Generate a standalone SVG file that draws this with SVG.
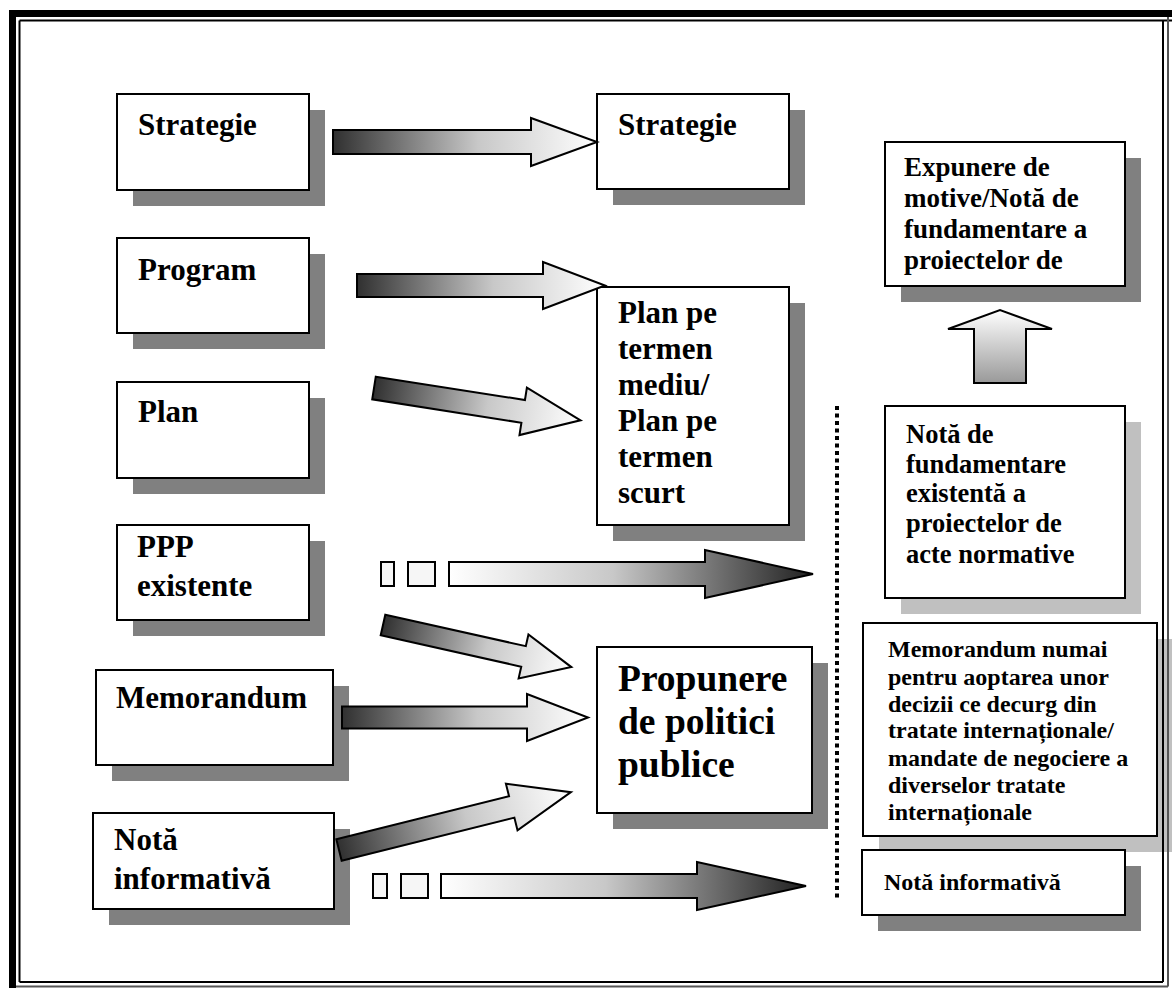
<svg xmlns="http://www.w3.org/2000/svg" width="1172" height="988" viewBox="0 0 1172 988">
<defs>
<style>
.box{fill:#fff;stroke:#000;stroke-width:2}
.sh{fill:#808080}
.shl{fill:#c0c0c0}
.t{font-family:"Liberation Serif","Times New Roman",serif;font-weight:bold;fill:#000}
.f31{font-size:31px}
.f37{font-size:37.5px}
.f27{font-size:27px}
.f26{font-size:26.5px}
.f24{font-size:24px}
.ar{stroke:#000;stroke-width:2;stroke-linejoin:miter}
.sq{fill:#f6f6f6;stroke:#000;stroke-width:2}
</style>
<linearGradient id="gR" x1="0" y1="0" x2="1" y2="0">
<stop offset="0" stop-color="#303030"/>
<stop offset="0.55" stop-color="#c8c8c8"/>
<stop offset="1" stop-color="#ffffff"/>
</linearGradient>
<linearGradient id="gL" x1="0" y1="0" x2="1" y2="0">
<stop offset="0" stop-color="#ffffff"/>
<stop offset="0.45" stop-color="#c8c8c8"/>
<stop offset="1" stop-color="#202020"/>
</linearGradient>
<linearGradient id="gU" x1="0" y1="0" x2="0" y2="1">
<stop offset="0" stop-color="#ffffff"/>
<stop offset="1" stop-color="#999999"/>
</linearGradient>
</defs>
<rect x="0" y="0" width="1172" height="988" fill="#fff"/>

<!-- left column -->
<g id="n-strategie-l">
<rect class="sh" x="133" y="110" width="192" height="96"/>
<rect class="box" x="117" y="94" width="192" height="96"/>
<text class="t f31" x="138" y="135">Strategie</text>
</g>
<g id="n-program">
<rect class="sh" x="133" y="254" width="192" height="95"/>
<rect class="box" x="117" y="238" width="192" height="95"/>
<text class="t f31" x="138" y="280">Program</text>
</g>
<g id="n-plan">
<rect class="sh" x="133" y="398" width="192" height="96"/>
<rect class="box" x="117" y="382" width="192" height="96"/>
<text class="t f31" x="138" y="422">Plan</text>
</g>
<g id="n-ppp">
<rect class="sh" x="133" y="541" width="192" height="95"/>
<rect class="box" x="117" y="525" width="192" height="95"/>
<text class="t f31" x="137" y="557">PPP</text>
<text class="t f31" x="137" y="596">existente</text>
</g>
<g id="n-memorandum-l">
<rect class="sh" x="112" y="686" width="237" height="95"/>
<rect class="box" x="96" y="670" width="237" height="95"/>
<text class="t f31" x="116" y="708">Memorandum</text>
</g>
<g id="n-nota-l">
<rect class="sh" x="109" y="829" width="241" height="96"/>
<rect class="box" x="93" y="813" width="241" height="96"/>
<text class="t f31" x="114" y="850">Notă</text>
<text class="t f31" x="114" y="889">informativă</text>
</g>

<!-- middle column -->
<g id="n-strategie-r">
<rect class="sh" x="613" y="110" width="192" height="95"/>
<rect class="box" x="597" y="94" width="192" height="95"/>
<text class="t f31" x="618" y="135">Strategie</text>
</g>
<g id="n-plan-termen">
<rect class="sh" x="613" y="303" width="192" height="238"/>
<rect class="box" x="597" y="287" width="192" height="238"/>
<text class="t f31" x="618" y="323">Plan pe</text>
<text class="t f31" x="618" y="359">termen</text>
<text class="t f31" x="618" y="395">mediu/</text>
<text class="t f31" x="618" y="431">Plan pe</text>
<text class="t f31" x="618" y="467">termen</text>
<text class="t f31" x="618" y="503">scurt</text>
</g>
<g id="n-propunere">
<rect class="sh" x="613" y="663" width="215" height="166"/>
<rect class="box" x="597" y="647" width="215" height="166"/>
<text class="t f37" x="618" y="691">Propunere</text>
<text class="t f37" x="618" y="734">de politici</text>
<text class="t f37" x="618" y="777">publice</text>
</g>

<!-- right column -->
<g id="n-expunere">
<rect class="sh" x="901" y="158" width="240" height="144"/>
<rect class="box" x="885" y="142" width="240" height="144"/>
<text class="t f27" x="904" y="176">Expunere de</text>
<text class="t f27" x="904" y="207">motive/Notă de</text>
<text class="t f27" x="904" y="238">fundamentare a</text>
<text class="t f27" x="904" y="269">proiectelor de</text>
</g>
<g id="n-nota-fund">
<rect class="shl" x="901" y="422" width="240" height="192"/>
<rect class="box" x="885" y="406" width="240" height="192"/>
<text class="t f26" x="906" y="443">Notă de</text>
<text class="t f26" x="906" y="473">fundamentare</text>
<text class="t f26" x="906" y="502">existentă a</text>
<text class="t f26" x="906" y="532">proiectelor de</text>
<text class="t f26" x="906" y="563">acte normative</text>
</g>
<g id="n-memorandum-r">
<rect class="shl" x="879" y="639" width="294" height="213"/>
<rect class="box" x="863" y="623" width="294" height="213"/>
<text class="t f24" x="888" y="657">Memorandum numai</text>
<text class="t f24" x="888" y="685">pentru aoptarea unor</text>
<text class="t f24" x="888" y="712">decizii ce decurg din</text>
<text class="t f24" x="888" y="738">tratate internaționale/</text>
<text class="t f24" x="888" y="766">mandate de negociere a</text>
<text class="t f24" x="888" y="793">diverselor tratate</text>
<text class="t f24" x="888" y="820">internaționale</text>
</g>
<g id="n-nota-r">
<rect class="sh" x="878" y="866" width="263" height="65"/>
<rect class="box" x="862" y="850" width="263" height="65"/>
<text class="t f24" x="884" y="890">Notă informativă</text>
</g>

<!-- connectors -->
<g id="connectors">
<path class="ar" fill="url(#gR)" d="M333,130 H531 V118 L597,142 L531,166 V154 H333 Z"/>
<path class="ar" fill="url(#gR)" d="M357,274 H543 V262 L605,285.5 L543,309 V297 H357 Z"/>
<path class="ar" fill="url(#gR)" transform="translate(374,388) rotate(8.9)" d="M0,-11.5 H151 V-24 L209,0 L151,24 V11.5 H0 Z"/>
<rect class="sq" x="381" y="562" width="13" height="24"/>
<rect class="sq" x="408" y="562" width="27" height="24"/>
<path class="ar" fill="url(#gL)" d="M449,562 H705 V550 L813,574 L705,598 V586 H449 Z"/>
<path class="ar" fill="url(#gR)" transform="translate(383,625) rotate(12.6)" d="M0,-10.5 H144 V-22.5 L193,0 L144,22.5 V10.5 H0 Z"/>
<path class="ar" fill="url(#gR)" d="M342,706.5 H527 V694 L588,717.5 L527,741 V728.5 H342 Z"/>
<path class="ar" fill="url(#gR)" transform="translate(339,850) rotate(-14)" d="M0,-11 H178 V-24 L239,0 L178,24 V11 H0 Z"/>
<rect class="sq" x="373" y="874" width="14" height="24"/>
<rect class="sq" x="401" y="874" width="27" height="24"/>
<path class="ar" fill="url(#gL)" d="M441,874 H697 V862 L806,886 L697,910 V898 H441 Z"/>
<path class="ar" fill="url(#gU)" d="M974,383 V329 H948 L1000,310 L1052,329 H1026 V383 Z"/>
<line x1="837" y1="406" x2="837" y2="900" stroke="#000" stroke-width="4" stroke-dasharray="4 3.5"/>
</g>

<!-- page border -->
<g id="frame" fill="none">
<rect x="9" y="10" width="1163" height="7" fill="#000"/>
<rect x="9" y="10" width="7" height="978" fill="#000"/>
<line x1="19.5" y1="20.5" x2="1172" y2="20.5" stroke="#000" stroke-width="2"/>
<line x1="19.5" y1="20.5" x2="19.5" y2="982" stroke="#000" stroke-width="2"/>
<line x1="19.5" y1="982" x2="1163" y2="982" stroke="#000" stroke-width="2"/>
<line x1="1163" y1="20.5" x2="1163" y2="982" stroke="#000" stroke-width="2"/>
<line x1="16" y1="986.5" x2="1168" y2="986.5" stroke="#555" stroke-width="2"/>
<line x1="1168" y1="17" x2="1168" y2="986.5" stroke="#555" stroke-width="2"/>
</g>
</svg>
